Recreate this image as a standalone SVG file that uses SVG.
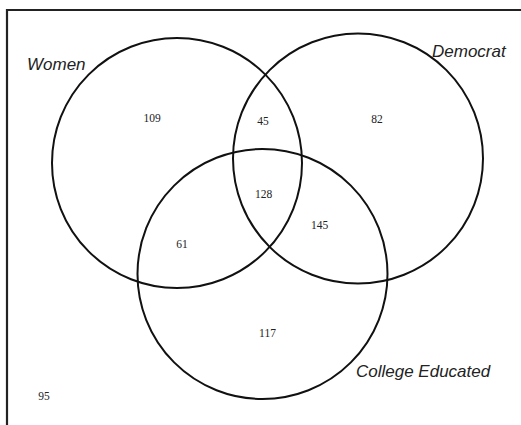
<svg xmlns="http://www.w3.org/2000/svg" width="521" height="425" viewBox="0 0 521 425">
<style>
.frame{fill:none;stroke:#222;stroke-width:2.2}
.set{fill:none;stroke:#111;stroke-width:2}
.lbl{font-family:"Liberation Sans",Arial,sans-serif;font-style:italic;font-size:17px;fill:#222}
.num{font-family:"Liberation Serif","Times New Roman",serif;font-size:11.5px;fill:#222;text-anchor:middle}
</style>
<rect width="521" height="425" fill="#fff"/>
<path class="frame" d="M7,425 V10 H521"/>
<g id="women">
<circle class="set" cx="177" cy="163" r="125"/>
<text class="lbl" x="27" y="70">Women</text>
</g>
<g id="democrat">
<circle class="set" cx="358" cy="158.5" r="125"/>
<text class="lbl" x="432" y="57">Democrat</text>
</g>
<g id="college">
<circle class="set" cx="262.5" cy="274" r="125"/>
<text class="lbl" x="356" y="377">College Educated</text>
</g>
<g id="counts">
<text class="num" x="152" y="122">109</text>
<text class="num" x="263" y="125">45</text>
<text class="num" x="377" y="123">82</text>
<text class="num" x="263.5" y="198">128</text>
<text class="num" x="182" y="248">61</text>
<text class="num" x="319.5" y="229">145</text>
<text class="num" x="267.5" y="337">117</text>
<text class="num" x="44" y="400">95</text>
</g>
<g id="connectors"/>
</svg>
